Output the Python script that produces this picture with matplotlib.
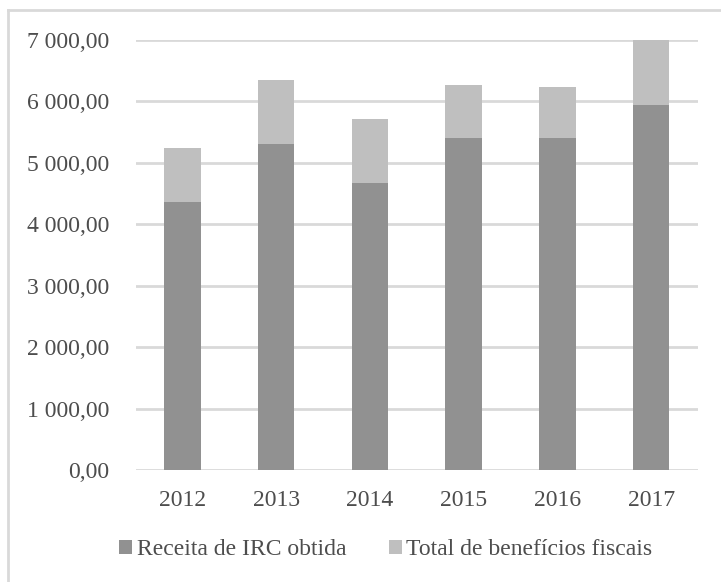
import numpy as np
import matplotlib.pyplot as plt
from matplotlib.lines import Line2D

years = ['2012', '2013', '2014', '2015', '2016', '2017']
receita_irc = [4356, 5309, 4670, 5397, 5397, 5938]
beneficios = [888, 1041, 1036, 871, 829, 1062]

plt.rcParams['font.family'] = ['Liberation Serif', 'DejaVu Serif']

fig = plt.figure(figsize=(7.21, 5.82), dpi=100)
ax = fig.add_axes([0.188, 0.192, 0.780, 0.740])

x = np.arange(len(years))
ax.bar(x, receita_irc, width=0.39, color='#919191', label='Receita de IRC obtida', zorder=3)
ax.bar(x, beneficios, width=0.39, bottom=receita_irc, color='#bfbfbf',
       label='Total de benefícios fiscais', zorder=3)

ax.set_xlim(-0.5, 5.5)
ax.set_ylim(0, 7000)
yticks = np.arange(0, 7001, 1000)
ax.set_yticks(yticks)
ax.set_yticklabels([f"{v:,.2f}".replace(",", " ").replace(".", ",") for v in yticks])
ax.set_xticks(x)
ax.set_xticklabels(years)

ax.grid(axis='y', color='#d9d9d9', linewidth=2, zorder=0)
for s in ax.spines.values():
    s.set_visible(False)
ax.tick_params(axis='both', length=0, labelsize=17, colors='#4d4d4d')
ax.tick_params(axis='y', pad=19)
ax.tick_params(axis='x', pad=14)

fig.legend(loc='center', bbox_to_anchor=(0.535, 0.055), ncol=2, frameon=False,
           fontsize=17, labelcolor='#4d4d4d', handlelength=0.55, handleheight=0.55,
           handletextpad=0.2, columnspacing=1.8)

# light frame around the chart area (cropped at right and bottom)
fig.add_artist(Line2D([8 / 721, 8 / 721], [0, 1 - 10 / 582], transform=fig.transFigure,
                      color='#d9d9d9', linewidth=2))
fig.add_artist(Line2D([8 / 721, 1], [1 - 10 / 582, 1 - 10 / 582], transform=fig.transFigure,
                      color='#d9d9d9', linewidth=2))

plt.savefig('out.png', dpi=100)
